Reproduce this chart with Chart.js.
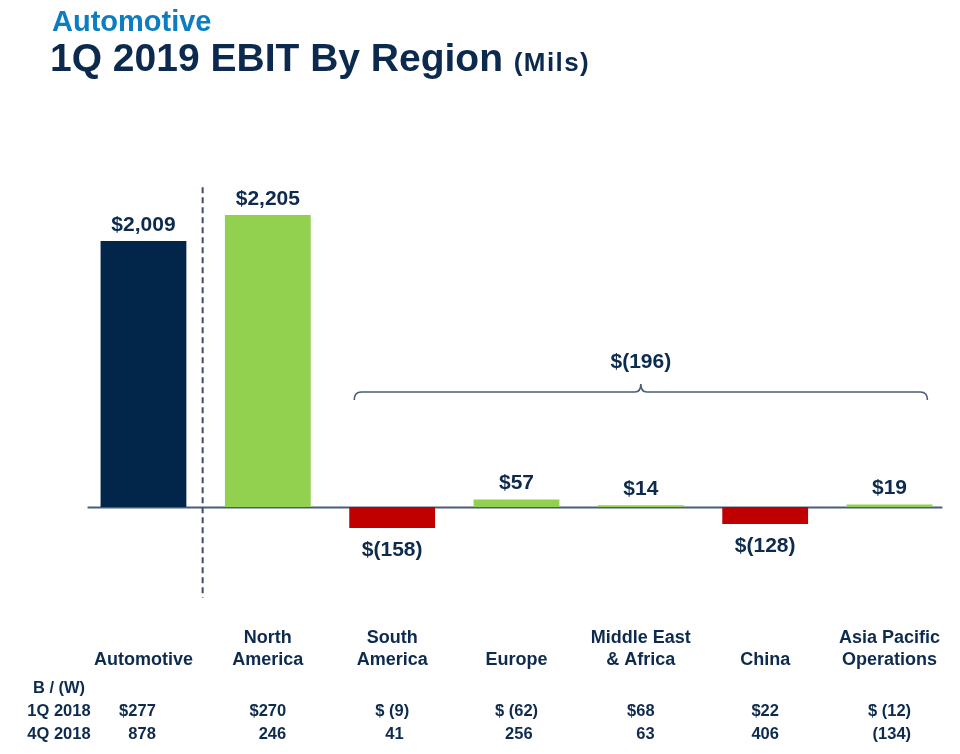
<!DOCTYPE html>
<html>
<head>
<meta charset="utf-8">
<script src="https://cdn.jsdelivr.net/npm/chart.js@4/dist/chart.umd.min.js"></script>
<style>
  html,body{margin:0;padding:0;background:#fff;}
  #wrap{position:relative;width:960px;height:754px;overflow:hidden;}
  canvas{position:absolute;left:0;top:0;}
  .t1{position:absolute;left:52px;top:5px;font:bold 29px "Liberation Sans",Arial,sans-serif;color:#0b7dc0;white-space:nowrap;}
  .t2{position:absolute;left:50px;top:36px;font:bold 39px "Liberation Sans",Arial,sans-serif;color:#0c2a4d;white-space:nowrap;}
  .t2 span{font-size:26px;letter-spacing:1.4px;}
</style>
</head>
<body>
<div id="wrap">
  <canvas id="c" width="960" height="754"></canvas>
  <div class="t1">Automotive</div>
  <div class="t2">1Q 2019 EBIT By Region <span>(Mils)</span></div>
</div>
<script>
// ---- data ----
const categories = [["Automotive"], ["North", "America"], ["South", "America"], ["Europe"], ["Middle East", "& Africa"], ["China"], ["Asia Pacific", "Operations"]];
const ebit1Q2019 = [2009, 2205, -158, 57, 14, -128, 19];
const bw1Q2018 = [277, 270, -9, -62, 68, 22, -12];
const bw4Q2018 = [878, 246, 41, 256, 63, 406, -134];
const rowLabels = ["B / (W)", "1Q 2018", "4Q 2018"];
const bracketTotal = -196;

const NAVY = '#012649', GREEN = '#92d050', RED = '#c00000';
const TXT = '#0d2b4e', LINE = '#4a5c78';
const FONT = '"Liberation Sans", Arial, sans-serif';

const barColors = ebit1Q2019.map((v, i) => i === 0 ? NAVY : (v >= 0 ? GREEN : RED));
const fmtLabel = v => v >= 0 ? '$' + v.toLocaleString('en-US') : '$(' + Math.abs(v) + ')';
const fmt1Q = v => v >= 0 ? '$' + v : '$ (' + Math.abs(v) + ')';
const fmt4Q = v => v >= 0 ? String(v) : '(' + Math.abs(v) + ')';

const overlay = {
  id: 'overlay',
  beforeDatasetsDraw(chart) {
    const ctx = chart.ctx;
    const ys = chart.scales.y;
    const bars = chart.getDatasetMeta(0).data;
    const y0 = ys.getPixelForValue(0);
    const first = bars[0], last = bars[bars.length - 1];
    ctx.save();
    ctx.strokeStyle = LINE; ctx.lineWidth = 2;
    ctx.beginPath();
    ctx.moveTo(first.x - first.width / 2 - 13, y0 + 0.5);
    ctx.lineTo(last.x + last.width / 2 + 10, y0 + 0.5);
    ctx.stroke();
    ctx.restore();
  },
  afterDatasetsDraw(chart) {
    const ctx = chart.ctx;
    const ys = chart.scales.y;
    const meta = chart.getDatasetMeta(0);
    const bars = meta.data;
    const y0 = ys.getPixelForValue(0);
    const ca = chart.chartArea;
    const last = bars[bars.length - 1];
    ctx.save();

    // dashed separator
    const xd = (bars[0].x + bars[1].x) / 2 - 3;
    ctx.strokeStyle = '#3b4d6b'; ctx.lineWidth = 2;
    ctx.setLineDash([6, 4]);
    ctx.beginPath();
    ctx.moveTo(xd, ca.top - 2);
    ctx.lineTo(xd, ca.bottom - 2);
    ctx.stroke();
    ctx.setLineDash([]);

    // brace over regions
    const xL = bars[2].x - bars[2].width / 2 + 5;
    const xR = last.x + last.width / 2 - 5;
    const xm = (xL + xR) / 2;
    const yb = y0 - 115;
    ctx.strokeStyle = LINE; ctx.lineWidth = 1.6;
    ctx.beginPath();
    ctx.moveTo(xL, yb + 8);
    ctx.quadraticCurveTo(xL, yb, xL + 7, yb);
    ctx.lineTo(xm - 6, yb);
    ctx.quadraticCurveTo(xm, yb, xm, yb - 8);
    ctx.quadraticCurveTo(xm, yb, xm + 6, yb);
    ctx.lineTo(xR - 7, yb);
    ctx.quadraticCurveTo(xR, yb, xR, yb + 8);
    ctx.stroke();

    ctx.fillStyle = TXT;
    ctx.textAlign = 'center';
    ctx.textBaseline = 'alphabetic';
    ctx.font = 'bold 21px ' + FONT;
    ctx.fillText(fmtLabel(bracketTotal), xm, y0 - 139);

    // bar value labels
    bars.forEach((b, i) => {
      const v = ebit1Q2019[i];
      if (v >= 0) ctx.fillText(fmtLabel(v), b.x, b.y - 10);
      else ctx.fillText(fmtLabel(v), b.x, b.y + 28);
    });

    // table headers
    ctx.font = 'bold 18px ' + FONT;
    bars.forEach((b, i) => {
      const lines = categories[i];
      lines.forEach((ln, k) => {
        ctx.fillText(ln, b.x, 665 - (lines.length - 1 - k) * 22);
      });
    });

    // rows
    ctx.font = 'bold 16.5px ' + FONT;
    const rowY = [693, 716, 739];
    rowLabels.forEach((r, k) => ctx.fillText(r, 59, rowY[k]));
    const parenW = ctx.measureText(')').width;
    bars.forEach((b, i) => {
      const s1 = fmt1Q(bw1Q2018[i]);
      const s2 = fmt4Q(bw4Q2018[i]);
      const w1 = ctx.measureText(s1).width;
      const cx = b.x + (i === 0 ? -6 : 0);
      ctx.textAlign = 'center';
      ctx.fillText(s1, cx, rowY[1]);
      let right = cx + w1 / 2;
      if (bw1Q2018[i] < 0 && bw4Q2018[i] >= 0) right -= parenW;
      ctx.textAlign = 'right';
      ctx.fillText(s2, right, rowY[2]);
    });
    ctx.restore();
  }
};

new Chart(document.getElementById('c'), {
  type: 'bar',
  data: {
    labels: categories.map(c => c.join(' ')),
    datasets: [{
      data: ebit1Q2019,
      backgroundColor: barColors,
      borderWidth: 0,
      categoryPercentage: 1,
      barPercentage: 0.69
    }]
  },
  options: {
    responsive: false,
    animation: false,
    devicePixelRatio: 1,
    layout: { padding: { left: 81.3, right: 8.3, top: 189.2, bottom: 154.3 } },
    plugins: { legend: { display: false }, tooltip: { enabled: false }, title: { display: false } },
    scales: {
      x: { display: false },
      y: { display: false, min: -700, max: 2400 }
    }
  },
  plugins: [overlay]
});
</script>
</body>
</html>
